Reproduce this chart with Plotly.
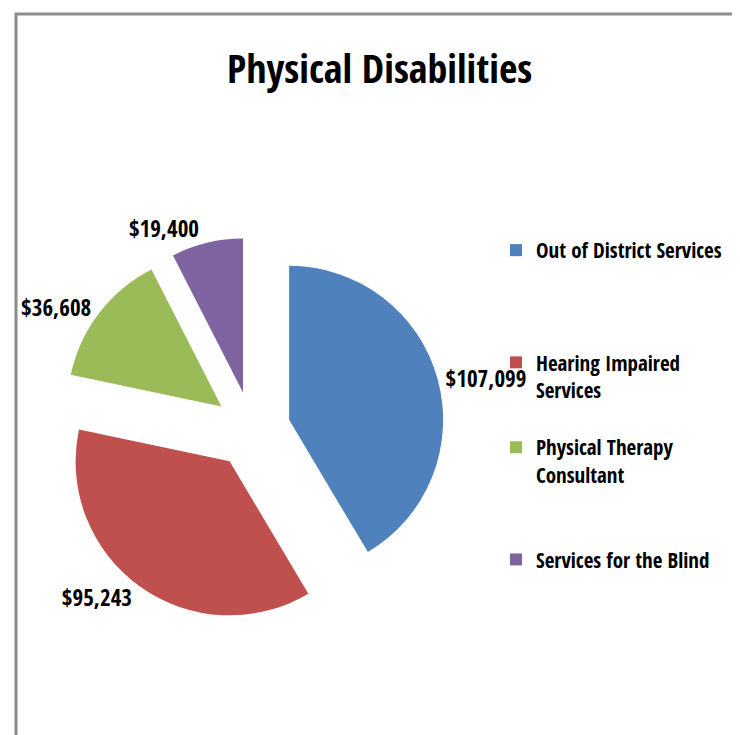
import plotly.graph_objects as go

title_text = "Physical Disabilities"
categories = ["Out of District Services", "Hearing Impaired Services",
              "Physical Therapy Consultant", "Services for the Blind"]
legend_names = ["Out of District Services<br> <br> <br> ",
                "Hearing Impaired<br>Services<br> ",
                "Physical Therapy<br>Consultant<br> <br> ",
                "Services for the Blind"]
values = [107099, 95243, 36608, 19400]
colors = ["#4F81BD", "#C0504D", "#9BBB59", "#8064A2"]

FONT = "Open Sans Condensed, Roboto Condensed, Carlito, sans-serif"
W, H = 740, 735

# pie geometry (pixels)
cx, cy, R, pull = 244, 422, 154, 0.25
half = R * (1 + pull)

fig = go.Figure(go.Pie(
    labels=legend_names,
    values=values,
    sort=False,
    direction="clockwise",
    rotation=0,
    pull=[pull] * len(values),
    marker=dict(colors=colors, line=dict(width=0)),
    texttemplate="$%{value:,}",
    textposition="outside",
    textfont=dict(family=FONT, size=23, color="black", weight="bold"),
    hovertext=categories,
    hoverinfo="text+value",
    domain=dict(x=[(cx - half) / W, (cx + half) / W],
                y=[1 - (cy + half) / H, 1 - (cy - half) / H]),
))

fig.update_layout(
    width=W, height=H,
    margin=dict(l=0, r=0, t=0, b=0, autoexpand=False),
    paper_bgcolor="white",
    plot_bgcolor="white",
    showlegend=True,
    legend=dict(
        x=(533 - 45) / W, xanchor="left",
        y=1 - 222 / H, yanchor="top",
        valign="top",
        font=dict(family=FONT, size=21, color="black", weight="bold"),
        bgcolor="rgba(0,0,0,0)",
    ),
    annotations=[dict(
        text=title_text, x=371 / W, y=1 - 60 / H, xref="paper", yref="paper",
        xanchor="center", yanchor="middle", showarrow=False,
        font=dict(family=FONT, size=40, color="black", weight="bold"),
    )],
    shapes=[dict(
        type="rect", xref="paper", yref="paper",
        x0=8 / W, x1=1.2, y0=-0.2, y1=1 - 6 / H,
        line=dict(color="#8C8C8C", width=3), fillcolor="rgba(0,0,0,0)",
    )],
)

fig.write_html("out.html")
